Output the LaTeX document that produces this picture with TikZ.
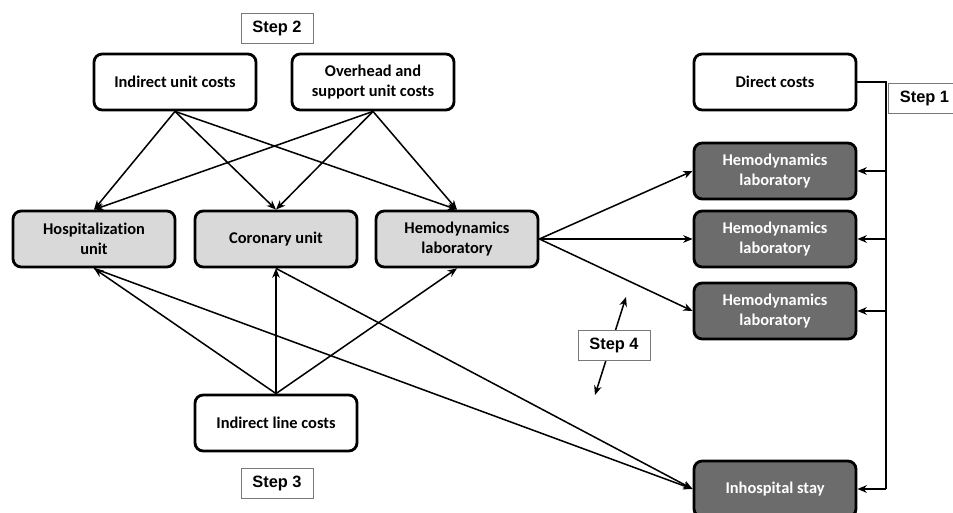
\documentclass[tikz,border=0pt]{standalone}
\usepackage{fontspec}
\setmainfont[Ligatures=NoCommon]{Carlito}
\newfontfamily\arialfont{Liberation Sans}
\usepackage{xcolor}
\usetikzlibrary{arrows, arrows.meta, positioning, calc}
\definecolor{unitgray}{RGB}{217,217,217}
\definecolor{labgray}{RGB}{108,108,108}
\definecolor{stepgray}{RGB}{120,120,120}

\begin{document}
\begin{tikzpicture}[x=0.03cm, y=-0.03cm, >={Stealth[length=8pt, width=6.5pt, inset=2.5pt]},
  costbox/.style={rectangle, rounded corners=7pt, draw=black, line width=2.4pt, minimum width=4.86cm, minimum height=1.68cm, align=center, fill=white, font=\bfseries\fontsize{14}{17}\selectfont, inner sep=2pt},
  unitbox/.style={costbox, fill=unitgray},
  labbox/.style={costbox, fill=labgray, text=white},
  stepbox/.style={rectangle, draw=stepgray, line width=0.8pt, fill=white, minimum width=2.16cm, minimum height=0.9cm, font=\arialfont\bfseries\fontsize{14}{16}\selectfont, inner sep=2pt},
  link/.style={->, line width=1.3pt}]
\useasboundingbox (0,0) rectangle (953,513);

% top row
\node[stepbox] (step2) at (277,28) {Step 2};
\node[costbox] (indunit) at (175,82) {Indirect unit costs};
\node[costbox] (overhead) at (373,82) {Overhead and\\support unit costs};
\node[costbox] (direct) at (775,82) {Direct costs};

% middle row
\node[unitbox] (hosp) at (94,239) {Hospitalization\\unit};
\node[unitbox] (coronary) at (276,239) {Coronary unit};
\node[unitbox] (hemo) at (457,239) {Hemodynamics\\laboratory};

% bottom
\node[costbox] (indline) at (276,423) {Indirect line costs};
\node[stepbox] (step3) at (277,483) {Step 3};

% final cost objects
\node[labbox] (lab1) at (775,171) {Hemodynamics\\laboratory};
\node[labbox] (lab2) at (775,239) {Hemodynamics\\laboratory};
\node[labbox] (lab3) at (775,311) {Hemodynamics\\laboratory};
\node[labbox] (stay) at (775,489) {Inhospital stay};

% step 2
\foreach \src in {indunit, overhead}
  \foreach \dst in {hosp, coronary, hemo}
    \draw[link] (\src.south) -- (\dst.north);

% step 3
\foreach \dst in {hosp, coronary, hemo}
  \draw[link] (indline.north) -- (\dst.south);
\draw[link] (hosp.south) -- (stay.west);
\draw[link] (coronary.south) -- (stay.west);

% step 4
\foreach \dst in {lab1, lab2, lab3}
  \draw[link] (hemo.east) -- (\dst.west);
\coordinate (s4top) at (626,297);
\coordinate (s4bot) at (595,395);
\draw[<->, line width=1.3pt] (s4bot) -- (s4top);
\node[stepbox] (step4) at (614,345) {Step 4};

% step 1
\coordinate (bus) at (886,82);
\draw[line width=1.3pt] (direct.east) -- (bus) -- (bus |- stay.east);
\foreach \dst in {lab1, lab2, lab3, stay}
  \draw[link] (bus |- \dst.east) -- (\dst.east);
\node[stepbox, anchor=west] (step1) at (888,98) {Step 1};
\end{tikzpicture}
\end{document}
